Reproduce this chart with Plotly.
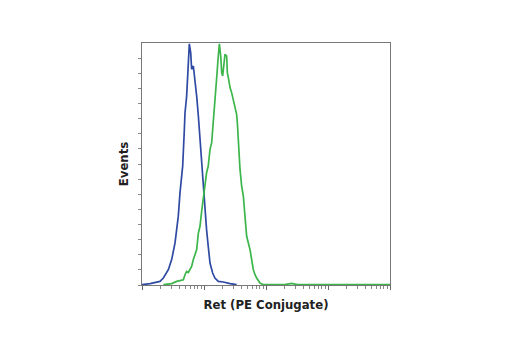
import plotly.graph_objects as go

# Blue histogram (control)
blue_x = [1.0, 1.35, 1.95, 2.21, 2.66, 3.01, 3.41, 3.85, 4.10, 4.53, 4.82, 4.94, 5.25, 5.59, 5.80,
          6.10, 6.32, 6.73, 7.16, 7.62, 8.11, 8.62, 9.17, 9.75, 10.4, 11.0, 11.7, 12.5, 13.8, 15.0,
          17.0, 20.5, 26.3, 33.6]
blue_y = [0.02, 0.09, 0.24, 0.46, 1.01, 1.68, 2.78, 4.55, 6.09, 7.86, 10.28, 11.39, 12.49, 14.70, 15.95,
          15.36, 14.26, 14.48, 13.60, 12.49, 11.17, 9.62, 8.08, 6.53, 4.99, 3.66, 2.56, 1.45, 0.79, 0.46,
          0.24, 0.20, 0.09, 0.02]

# Green histogram (Ret PE conjugate)
green_x = [2.21, 3.01, 3.63, 4.64, 4.94, 5.25, 5.59, 6.32, 6.73, 7.62, 8.11, 8.62, 9.17, 9.75, 10.4,
           11.0, 11.7, 12.5, 13.3, 14.1, 15.0, 15.6, 16.4, 17.0, 17.7, 18.6, 19.3, 20.0, 21.0, 21.8,
           23.2, 23.8, 25.0, 26.3, 27.9, 29.7, 31.6, 33.6, 34.5, 35.8, 38.1, 40.5, 43.1, 45.8, 48.8,
           51.9, 55.2, 58.7, 62.5, 66.5, 70.7, 80.0, 90.6, 200, 259, 320, 1000, 10000]
green_y = [0.02, 0.09, 0.24, 0.35, 0.68, 0.90, 0.83, 1.23, 1.68, 2.34, 3.44, 3.88, 4.88, 5.87, 6.53,
           7.42, 7.86, 8.97, 9.41, 10.95, 12.49, 13.15, 14.26, 15.14, 15.95, 15.14, 14.04, 13.82, 14.70, 15.25,
           15.14, 14.04, 13.60, 13.05, 12.72, 12.27, 11.83, 11.28, 10.73, 9.41, 7.64, 6.53, 5.87, 4.55, 3.22,
           2.78, 2.34, 1.68, 1.01, 0.68, 0.46, 0.13, 0.02, 0.02, 0.10, 0.02, 0.02, 0.02]

major_ticks = [1, 10, 100, 1000, 10000]
minor_ticks = [m * d for d in [1, 10, 100, 1000] for m in range(2, 10)]
y_ticks = list(range(0, 16))

FONT = "Liberation Sans Narrow, DejaVu Sans Condensed, Arial"

fig = go.Figure()
fig.add_trace(go.Scatter(x=blue_x, y=blue_y, mode="lines",
                         line=dict(color="#2f4aa3", width=1.7), showlegend=False))
fig.add_trace(go.Scatter(x=green_x, y=green_y, mode="lines",
                         line=dict(color="#3cb64a", width=1.7), showlegend=False))

fig.update_layout(
    width=520, height=350,
    margin=dict(l=142, r=130, t=43, b=65),
    paper_bgcolor="white", plot_bgcolor="white",
    xaxis=dict(
        type="log", range=[0, 4],
        tickmode="array", tickvals=major_ticks, ticktext=[""] * len(major_ticks),
        ticks="outside", ticklen=4, tickcolor="#666", tickwidth=1,
        minor=dict(tickmode="array", tickvals=minor_ticks, ticks="outside",
                   ticklen=3, tickcolor="#888", tickwidth=1, showgrid=False),
        showgrid=False, zeroline=False,
        showline=True, linecolor="#777", linewidth=1, mirror=True,
        title=dict(text="<b>Ret (PE Conjugate)</b>", standoff=8,
                   font=dict(family=FONT, size=13, color="#222")),
    ),
    yaxis=dict(
        range=[0, 16],
        tickmode="array", tickvals=y_ticks, ticktext=[""] * len(y_ticks),
        ticks="outside", ticklen=3, tickcolor="#888", tickwidth=1,
        showgrid=False, zeroline=False,
        showline=True, linecolor="#777", linewidth=1, mirror=True,
        title=dict(text="<b>Events</b>", standoff=4,
                   font=dict(family=FONT, size=13, color="#222")),
    ),
)

fig.write_html("out.html")
